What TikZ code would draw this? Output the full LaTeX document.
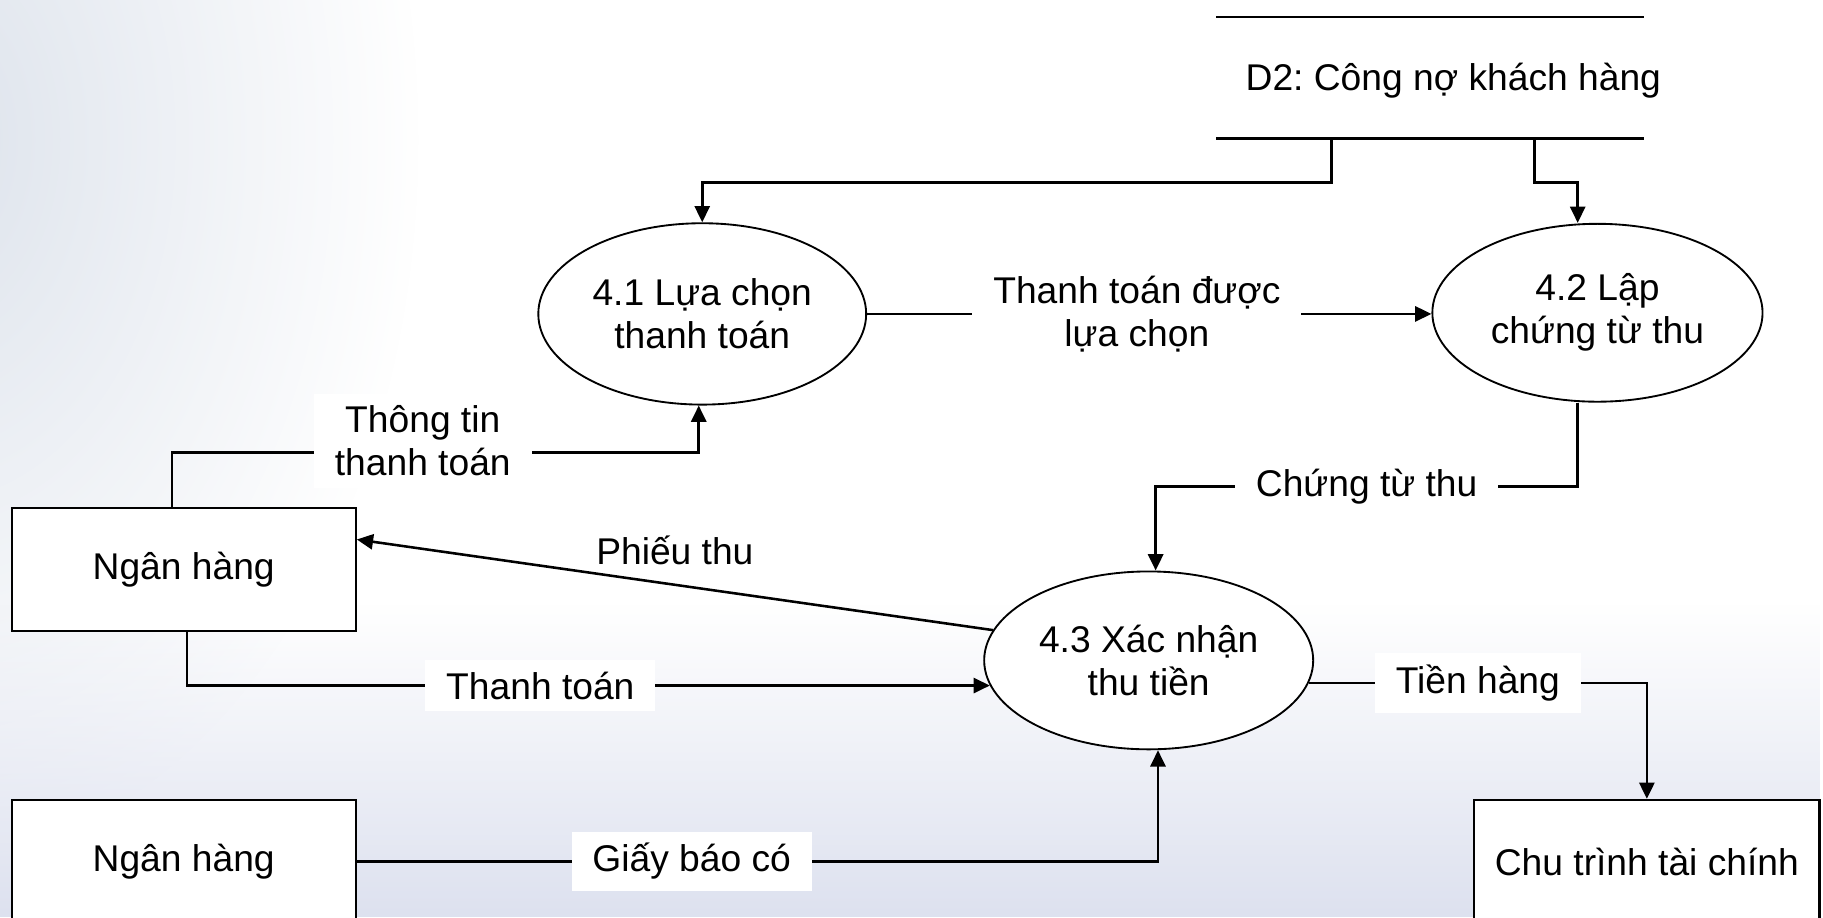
\documentclass[tikz,border=0pt]{standalone}
\usepackage{fontspec}
\setmainfont{Liberation Sans}
\usetikzlibrary{arrows.meta,shapes.geometric,fadings}
\definecolor{bgcorner}{HTML}{DDE3EC}
\definecolor{bgfloor}{HTML}{DDE1EF}
\tikzfading[name=softcorner, inner color=transparent!0, outer color=transparent!100]
\frenchspacing
\begin{document}
\begin{tikzpicture}[x=0.5pt,y=-0.5pt,
  every node/.style={font=\fontsize{16}{18.5}\selectfont, align=center},
  proc/.style={ellipse, draw, line width=0.8pt, fill=white, inner sep=0pt},
  entity/.style={rectangle, draw, line width=0.9pt, fill=white,
                 minimum width=148pt, minimum height=53pt},
  flow/.style={draw, line width=1.1pt, -{Triangle[length=7pt,width=6.5pt]}},
  lbl/.style={fill=white, inner xsep=9pt, inner ysep=5pt},
  storeline/.style={line width=1.2pt}]
\useasboundingbox (0,0) rectangle (1568,789);
\begin{scope}
\clip (0,0) rectangle (1568,789);
% soft background
\fill[white] (0,0) rectangle (1568,789);
\fill[bgcorner, path fading=softcorner] (-60,120) ellipse (420 and 620);
\fill[bgfloor, path fading=north] (0,520) rectangle (1568,789);

% data store D2
\node (d2) [minimum width=183.5pt, minimum height=52pt, inner sep=0pt] at (1230,67) {};
\draw[storeline] (d2.north west) -- (d2.north east);
\draw[storeline] (d2.south west) -- (d2.south east);
\node (d2t) at (1250,69) {D2: Công nợ khách hàng};
\coordinate (d2a) at (1145,119);
\coordinate (d2b) at (1320,119);

% processes
\node (p41) [proc, minimum width=141pt, minimum height=78pt] at (604,270) {4.1 Lựa chọn\\thanh toán};
\node (p42) [proc, minimum width=142pt, minimum height=76.5pt] at (1374,269) {4.2 Lập\\chứng từ thu};
\node (p43) [proc, minimum width=141.5pt, minimum height=76.5pt] at (988,568) {4.3 Xác nhận\\thu tiền};

% external entities
\node (nh1) [entity] at (158,490) {Ngân hàng};
\node (nh2) [entity] at (158,741) {Ngân hàng};
\node (cht) [entity, minimum width=148.5pt] at (1416.5,741) {Chu trình tài chính};

% data flows
\draw[flow] (d2a) -- ++(0,38) -| (p41);
\draw[flow] (d2b) -- ++(0,38) -| ([xshift=-8.5pt]p42.north);
\draw[flow] (p41.east) -- (p41.east -| p42.west)
  node[lbl, pos=0.478] {Thanh toán được\\lựa chọn};
\draw[flow] ([xshift=-5pt]nh1.north) -- ++(0,-47)
  -| node[lbl, pos=0.238, yshift=5pt] {Thông tin\\thanh toán} ([xshift=-1.5pt]p41.south);
\draw[flow] (p43.169) -- ([yshift=13pt]nh1.east)
  node[pos=0.5, yshift=15pt] {Phiếu thu};
\draw[flow] ([xshift=1.5pt]nh1.south) |- node[lbl, pos=0.72] {Thanh toán} (p43.189);
\draw[flow] ([xshift=-8.5pt]p42.south) -- ++(0,72)
  -| node[lbl, pos=0.25] {Chứng từ thu} ([xshift=3pt]p43.north);
\draw[flow] (p43.352.6) -| node[lbl, pos=0.25] {Tiền hàng} (cht.north);
\draw[flow] (nh2.east) -| node[lbl, pos=0.209] {Giấy báo có} ([xshift=4pt]p43.south);
\end{scope}
\end{tikzpicture}
\end{document}
